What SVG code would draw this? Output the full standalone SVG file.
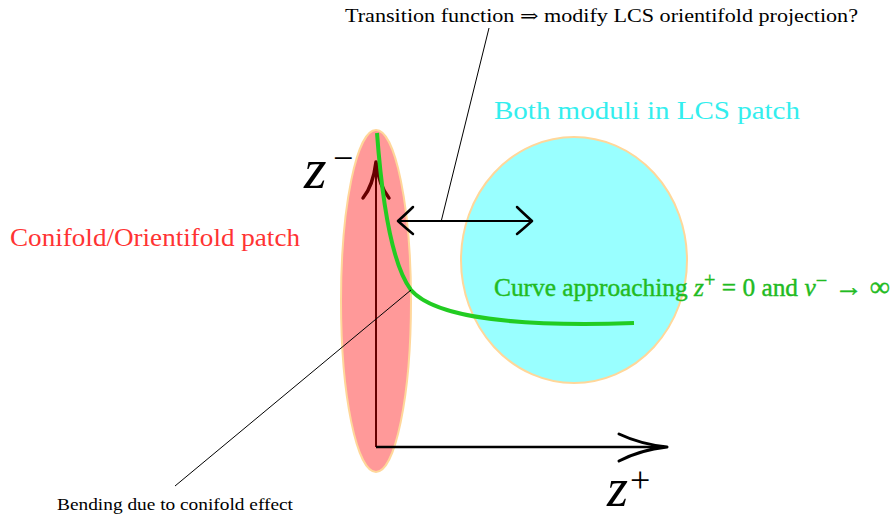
<svg xmlns="http://www.w3.org/2000/svg" width="896" height="521" viewBox="0 0 896 521">
<style>
.t{font-family:"Liberation Serif","DejaVu Serif",serif}
.lead{stroke:#000;stroke-width:1;fill:none}
</style>
<rect width="896" height="521" fill="#fff"/>
<g id="conifold-patch">
<ellipse cx="376" cy="301" rx="35" ry="171" fill="#ff9999" stroke="#ffd79a" stroke-width="2"/>
</g>
<g id="lcs-patch">
<ellipse cx="574" cy="260" rx="113" ry="123" fill="#99ffff" stroke="#ffd79a" stroke-width="2"/>
</g>
<g id="connectors">
<line x1="376" y1="447" x2="376" y2="165" stroke="#660000" stroke-width="2"/>
<path d="M376,162 Q373,186 363,198 M376,162 Q379,186 389,198" stroke="#660000" stroke-width="3.5" fill="none" stroke-linecap="round"/>
<line x1="376" y1="447" x2="664" y2="447" stroke="#000" stroke-width="2.5"/>
<path d="M667,447 Q640,444 619,434 M667,447 Q640,450 619,461" stroke="#000" stroke-width="3" fill="none" stroke-linecap="round"/>
<line x1="400" y1="221" x2="530" y2="221" stroke="#000" stroke-width="2"/>
<path d="M398,221 Q408,212 413,207 M398,221 Q408,230 413,234" stroke="#000" stroke-width="2.5" fill="none" stroke-linecap="round"/>
<path d="M532,221 Q522,212 517,207 M532,221 Q522,230 517,234" stroke="#000" stroke-width="2.5" fill="none" stroke-linecap="round"/>
<path d="M377,133 C382,200 392,265 411,290 C435,318 520,327 634,323" stroke="#22cc22" stroke-width="4" fill="none"/>
<line class="lead" x1="489" y1="28" x2="441" y2="222"/>
<line class="lead" x1="411" y1="290" x2="175" y2="486"/>
</g>
<g id="labels">
<text class="t" x="345" y="22" font-size="18" textLength="513" lengthAdjust="spacingAndGlyphs">Transition function ⇒ modify LCS orientifold projection?</text>
<text class="t" x="494" y="119" font-size="25" fill="#33eeee" textLength="306" lengthAdjust="spacingAndGlyphs">Both moduli in LCS patch</text>
<text class="t" x="10" y="246" font-size="25" fill="#ff3333" textLength="290" lengthAdjust="spacingAndGlyphs">Conifold/Orientifold patch</text>
<text class="t" x="494" y="296" font-size="25" fill="#22bb22" stroke="#22bb22" stroke-width="0.4" textLength="396" lengthAdjust="spacingAndGlyphs">Curve approaching <tspan font-style="italic">z</tspan><tspan font-size="20" dy="-9">+</tspan><tspan dy="9"> = 0 and </tspan><tspan font-style="italic">v</tspan><tspan font-size="20" dy="-9">−</tspan><tspan dy="9" font-size="28"> → ∞</tspan></text>
<text class="t" x="304" y="188" font-size="58" font-style="italic">z</text>
<text class="t" x="333" y="170" font-size="36">−</text>
<text class="t" x="607" y="506" font-size="54" font-style="italic">z</text>
<text class="t" x="630" y="492" font-size="36">+</text>
<text class="t" x="57" y="510" font-size="17" textLength="236" lengthAdjust="spacingAndGlyphs">Bending due to conifold effect</text>
</g>
</svg>
